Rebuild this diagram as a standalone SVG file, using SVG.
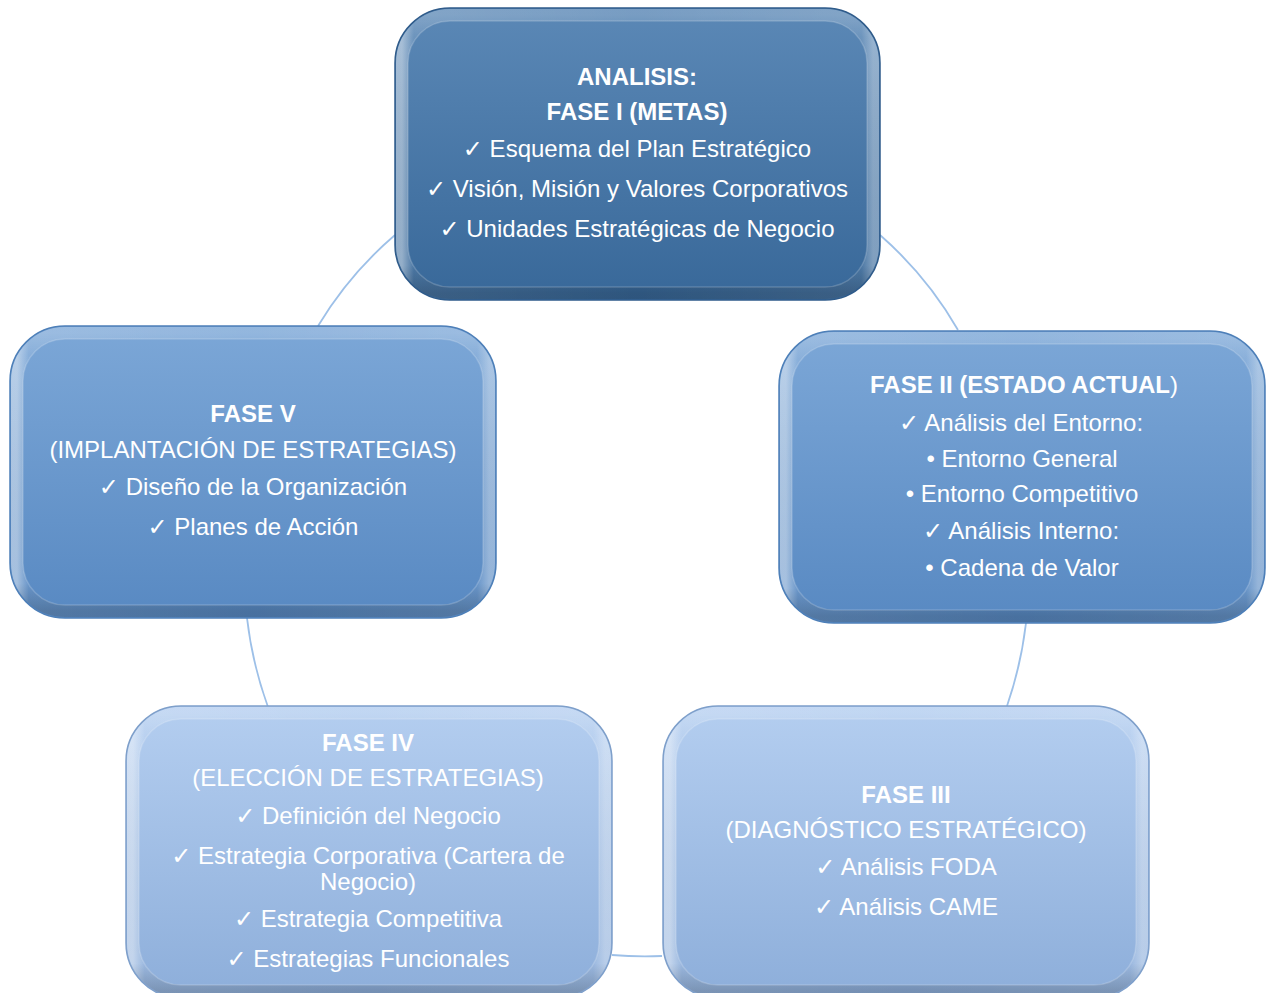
<svg xmlns="http://www.w3.org/2000/svg" width="1266" height="993" viewBox="0 0 1266 993">
<defs>
<linearGradient id="gDark" x1="0" y1="0" x2="0" y2="1"><stop offset="0" stop-color="#5b88b6"/><stop offset="1" stop-color="#386899"/></linearGradient>
<linearGradient id="gMid" x1="0" y1="0" x2="0" y2="1"><stop offset="0" stop-color="#7ca7d7"/><stop offset="1" stop-color="#5889c2"/></linearGradient>
<linearGradient id="gLight" x1="0" y1="0" x2="0" y2="1"><stop offset="0" stop-color="#b4cef0"/><stop offset="1" stop-color="#8daeda"/></linearGradient>
<linearGradient id="rimH" x1="0" y1="0" x2="1" y2="0"><stop offset="0" stop-color="#ffffff" stop-opacity="0.45"/><stop offset="0.025" stop-color="#ffffff" stop-opacity="0.08"/><stop offset="0.5" stop-color="#ffffff" stop-opacity="0"/><stop offset="0.975" stop-color="#ffffff" stop-opacity="0.08"/><stop offset="1" stop-color="#ffffff" stop-opacity="0.35"/></linearGradient>
<linearGradient id="rimV" x1="0" y1="0" x2="0" y2="1"><stop offset="0" stop-color="#ffffff" stop-opacity="0.18"/><stop offset="0.08" stop-color="#ffffff" stop-opacity="0.05"/><stop offset="0.9" stop-color="#000000" stop-opacity="0"/><stop offset="1" stop-color="#000000" stop-opacity="0.18"/></linearGradient>
</defs>
<style>
.box{stroke-width:1.5}
.dk{stroke:#2f5b8a}
.md{stroke:#4d7fb8}
.lt{stroke:#7e9fca}
.rh{fill:none;stroke:url(#rimH);stroke-width:12}
.rv{fill:none;stroke:url(#rimV);stroke-width:12}
.in{fill:none;stroke:#ffffff;stroke-opacity:0.18;stroke-width:1.5}
text{font-family:"Liberation Sans",Arial,"DejaVu Sans",sans-serif;font-size:24px;fill:#ffffff;text-anchor:middle}
.b{font-weight:bold}
.n{font-weight:normal}
.conn{fill:none;stroke:#9dc0e8;stroke-width:1.8}
</style>
<g id="connectors">
<path class="conn" d="M880,235 A373,373 0 0 1 958,330"/>
<path class="conn" d="M1026,623 A392,392 0 0 1 1007,706"/>
<path class="conn" d="M662,956 A392,392 0 0 1 612,955"/>
<path class="conn" d="M268,707 A392,392 0 0 1 247,618"/>
<path class="conn" d="M318,326 A373,373 0 0 1 395,235"/>
</g>
<g id="fase1">
<rect class="box dk" x="395" y="8" width="485" height="292" rx="55" fill="url(#gDark)"/>
<rect class="rh" x="402" y="15" width="471" height="278" rx="48"/>
<rect class="rv" x="402" y="15" width="471" height="278" rx="48"/>
<rect class="in" x="408" y="21" width="459" height="266" rx="42"/>
<text class="b" x="637" y="85">ANALISIS:</text>
<text class="b" x="637" y="120">FASE I (METAS)</text>
<text x="637" y="157">✓ Esquema del Plan Estratégico</text>
<text x="637" y="197">✓ Visión, Misión y Valores Corporativos</text>
<text x="637" y="237">✓ Unidades Estratégicas de Negocio</text>
</g>
<g id="fase2">
<rect class="box md" x="779" y="331" width="486" height="292" rx="55" fill="url(#gMid)"/>
<rect class="rh" x="786" y="338" width="472" height="278" rx="48"/>
<rect class="rv" x="786" y="338" width="472" height="278" rx="48"/>
<rect class="in" x="792" y="344" width="460" height="266" rx="42"/>
<text class="b" x="1024" y="393">FASE II (ESTADO ACTUAL<tspan class="n">)</tspan></text>
<text x="1021" y="431">✓ Análisis del Entorno:</text>
<text x="1022" y="467">• Entorno General</text>
<text x="1022" y="502">• Entorno Competitivo</text>
<text x="1021" y="539">✓ Análisis Interno:</text>
<text x="1022" y="576">• Cadena de Valor</text>
</g>
<g id="fase3">
<rect class="box lt" x="663" y="706" width="486" height="292" rx="55" fill="url(#gLight)"/>
<rect class="rh" x="670" y="713" width="472" height="278" rx="48"/>
<rect class="rv" x="670" y="713" width="472" height="278" rx="48"/>
<rect class="in" x="676" y="719" width="460" height="266" rx="42"/>
<text class="b" x="906" y="803">FASE III</text>
<text x="906" y="838">(DIAGNÓSTICO ESTRATÉGICO)</text>
<text x="906" y="875">✓ Análisis FODA</text>
<text x="906" y="915">✓ Análisis CAME</text>
</g>
<g id="fase4">
<rect class="box lt" x="126" y="706" width="486" height="292" rx="55" fill="url(#gLight)"/>
<rect class="rh" x="133" y="713" width="472" height="278" rx="48"/>
<rect class="rv" x="133" y="713" width="472" height="278" rx="48"/>
<rect class="in" x="139" y="719" width="460" height="266" rx="42"/>
<text class="b" x="368" y="751">FASE IV</text>
<text x="368" y="786">(ELECCIÓN DE ESTRATEGIAS)</text>
<text x="368" y="824">✓ Definición del Negocio</text>
<text x="368" y="864">✓ Estrategia Corporativa (Cartera de</text>
<text x="368" y="890">Negocio)</text>
<text x="368" y="927">✓ Estrategia Competitiva</text>
<text x="368" y="967">✓ Estrategias Funcionales</text>
</g>
<g id="fase5">
<rect class="box md" x="10" y="326" width="486" height="292" rx="55" fill="url(#gMid)"/>
<rect class="rh" x="17" y="333" width="472" height="278" rx="48"/>
<rect class="rv" x="17" y="333" width="472" height="278" rx="48"/>
<rect class="in" x="23" y="339" width="460" height="266" rx="42"/>
<text class="b" x="253" y="422">FASE V</text>
<text x="253" y="458">(IMPLANTACIÓN DE ESTRATEGIAS)</text>
<text x="253" y="495">✓ Diseño de la Organización</text>
<text x="253" y="535">✓ Planes de Acción</text>
</g>
</svg>
